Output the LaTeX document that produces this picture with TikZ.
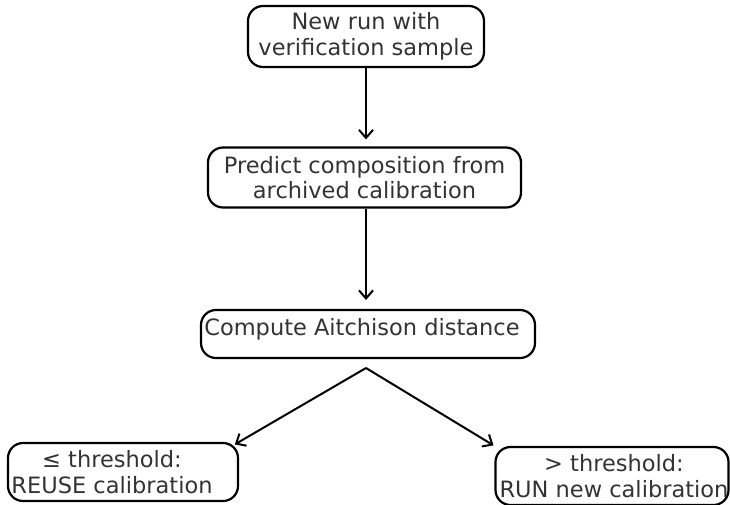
\documentclass[tikz,border=0pt]{standalone}
\usepackage{fontspec}
\setmainfont{DejaVu Sans}
\usetikzlibrary{arrows.meta}

\begin{document}
\begin{tikzpicture}[x=1pt,y=-1pt]
        \tikzstyle{every node}=[draw,line width=2.2pt,rounded corners=15pt,align=center,inner sep=0pt,text=black!80,font=\fontsize{22.5}{25.5}\selectfont]
        \tikzstyle{flow}=[-{Straight Barb[length=8pt,width=14pt,line width=2pt]},line width=2pt]
        \useasboundingbox (0,0) rectangle (730,504);
        \node[minimum width=236pt,minimum height=61pt] (newrun) at (366,36.5) {New run with\\verification sample};
        \node[minimum width=313pt,minimum height=60pt] (predict) at (364.5,177.5) {Predict composition from\\archived calibration};
        \node[minimum width=334pt,minimum height=48pt,text depth=15pt] (dist) at (368,334) {Compute Aitchison distance\hspace*{12pt}};
        \node[minimum width=230pt,minimum height=58pt] (reuse) at (123,472) {≤ threshold:\hspace*{22pt}\\REUSE calibration\hspace*{22pt}};
        \node[minimum width=233pt,minimum height=58pt] (rerun) at (612,476) {> threshold:\hspace*{-4pt}\\RUN new calibration\hspace*{-4pt}};
        \coordinate (fork) at (366,368);
        \draw[flow,shorten >=7pt] (newrun.south) -- (newrun.south |- predict.north);
        \draw[flow,shorten >=9pt] (newrun.south |- predict.south) -- (newrun.south |- dist.north);
        \draw[flow,shorten >=-5pt] (fork) -- (reuse.north east);
        \draw[flow,shorten >=1pt] (fork) -- (rerun.north west);
\end{tikzpicture}
\end{document}
